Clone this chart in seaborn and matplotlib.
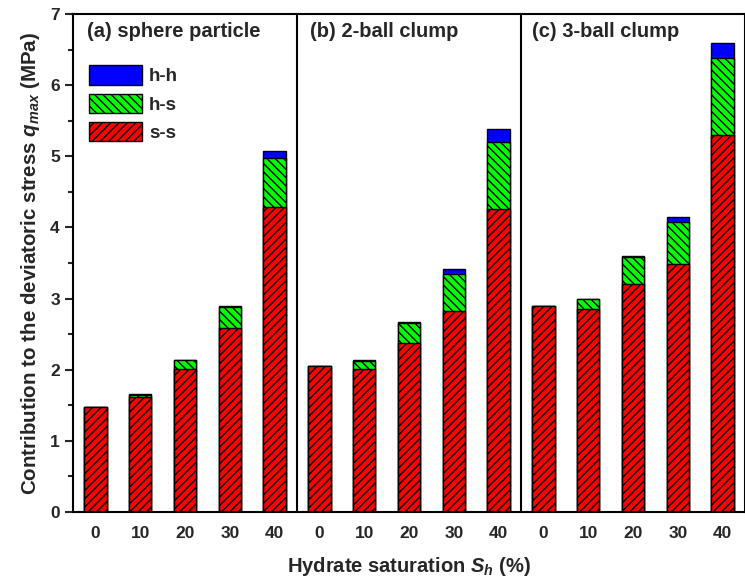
import matplotlib
matplotlib.use("Agg")
import matplotlib.pyplot as plt
import seaborn as sns
import numpy as np
import pandas as pd
from matplotlib.patches import Patch
from matplotlib.ticker import MultipleLocator

# ---- data ----
groups = ["(a) sphere particle", "(b) 2-ball clump", "(c) 3-ball clump"]
saturation = [0, 10, 20, 30, 40]
ss = [1.47, 1.62, 2.01, 2.58, 4.29,
      2.05, 2.01, 2.38, 2.83, 4.26,
      2.90, 2.85, 3.21, 3.48, 5.30]
hs = [0.00, 0.03, 0.12, 0.30, 0.68,
      0.00, 0.11, 0.28, 0.52, 0.94,
      0.00, 0.14, 0.37, 0.60, 1.08]
hh = [0.00, 0.01, 0.01, 0.02, 0.10,
      0.00, 0.01, 0.01, 0.06, 0.19,
      0.00, 0.01, 0.02, 0.06, 0.21]

sns.set_theme(style="ticks")
plt.rcParams['font.family'] = ['Liberation Sans', 'DejaVu Sans']
plt.rcParams['hatch.linewidth'] = 1.0
plt.rcParams['mathtext.fontset'] = 'custom'
plt.rcParams['mathtext.rm'] = 'Liberation Sans:bold'
plt.rcParams['mathtext.it'] = 'Liberation Sans:italic:bold'
plt.rcParams['mathtext.bf'] = 'Liberation Sans:bold'

pos = list(range(len(ss)))
df = pd.DataFrame({"pos": pos, "ss": ss, "hs": hs, "hh": hh})
df["ss_hs"] = df["ss"] + df["hs"]
df["total"] = df["ss_hs"] + df["hh"]

fig = plt.figure(figsize=(7.45, 5.88), dpi=100)
ax = fig.add_axes([73/745, 1-512/588, 672/745, 498/588])

common = dict(x="pos", order=pos, width=0.5, saturation=1, edgecolor="black",
              linewidth=1.0, ax=ax, errorbar=None)
sns.barplot(data=df, y="total", color="#0000FF", **common)
sns.barplot(data=df, y="ss_hs", color="#00FF00", hatch="\\\\\\\\", **common)
sns.barplot(data=df, y="ss", color="#FF0000", hatch="////", **common)

ax.set_xlim(-0.5, 14.5)
ax.set_ylim(0, 7)
for xv in (4.5, 9.5):
    ax.axvline(xv, color="black", lw=1.5)

ax.set_xticks(pos)
ax.set_xticklabels([str(s) for _ in groups for s in saturation])
ax.yaxis.set_major_locator(MultipleLocator(1))
ax.yaxis.set_minor_locator(MultipleLocator(0.5))
ax.tick_params(axis="x", direction="in", length=5, width=1.5, pad=10, labelsize=12.5)
ax.tick_params(axis="y", which="major", direction="out", length=6, width=1.5, labelsize=12.5)
ax.tick_params(axis="y", which="minor", direction="out", length=3.5, width=1.5)
for lbl in ax.get_xticklabels() + ax.get_yticklabels():
    lbl.set_fontweight("bold")
for sp in ax.spines.values():
    sp.set_visible(True)
    sp.set_linewidth(1.5)
    sp.set_color("black")

ax.set_xlabel("Hydrate saturation $S_h$ (%)", fontsize=14.5, fontweight="bold", labelpad=10)
ax.set_ylabel("Contribution to the deviatoric stress $q_{max}$ (MPa)", fontsize=14.8,
              fontweight="bold", labelpad=6)

title_x = [-0.19, 4.79, 9.75]
for tx, g in zip(title_x, groups):
    ax.text(tx, 6.76, g, fontsize=14.5, fontweight="bold", va="center", ha="left")

handles = [Patch(facecolor="#0000FF", edgecolor="black", lw=1.0, label="h-h"),
           Patch(facecolor="#00FF00", edgecolor="black", lw=1.0, hatch="\\\\\\\\", label="h-s"),
           Patch(facecolor="#FF0000", edgecolor="black", lw=1.0, hatch="////", label="s-s")]
leg = ax.legend(handles=handles, loc="upper left", bbox_to_anchor=(0.024, 0.897),
                frameon=False, fontsize=13.5, handlelength=2.8, handleheight=1.2,
                handletextpad=0.4, labelspacing=0.45, borderpad=0, borderaxespad=0)
for t in leg.get_texts():
    t.set_fontweight("bold")

fig.savefig("out.png", dpi=100)
